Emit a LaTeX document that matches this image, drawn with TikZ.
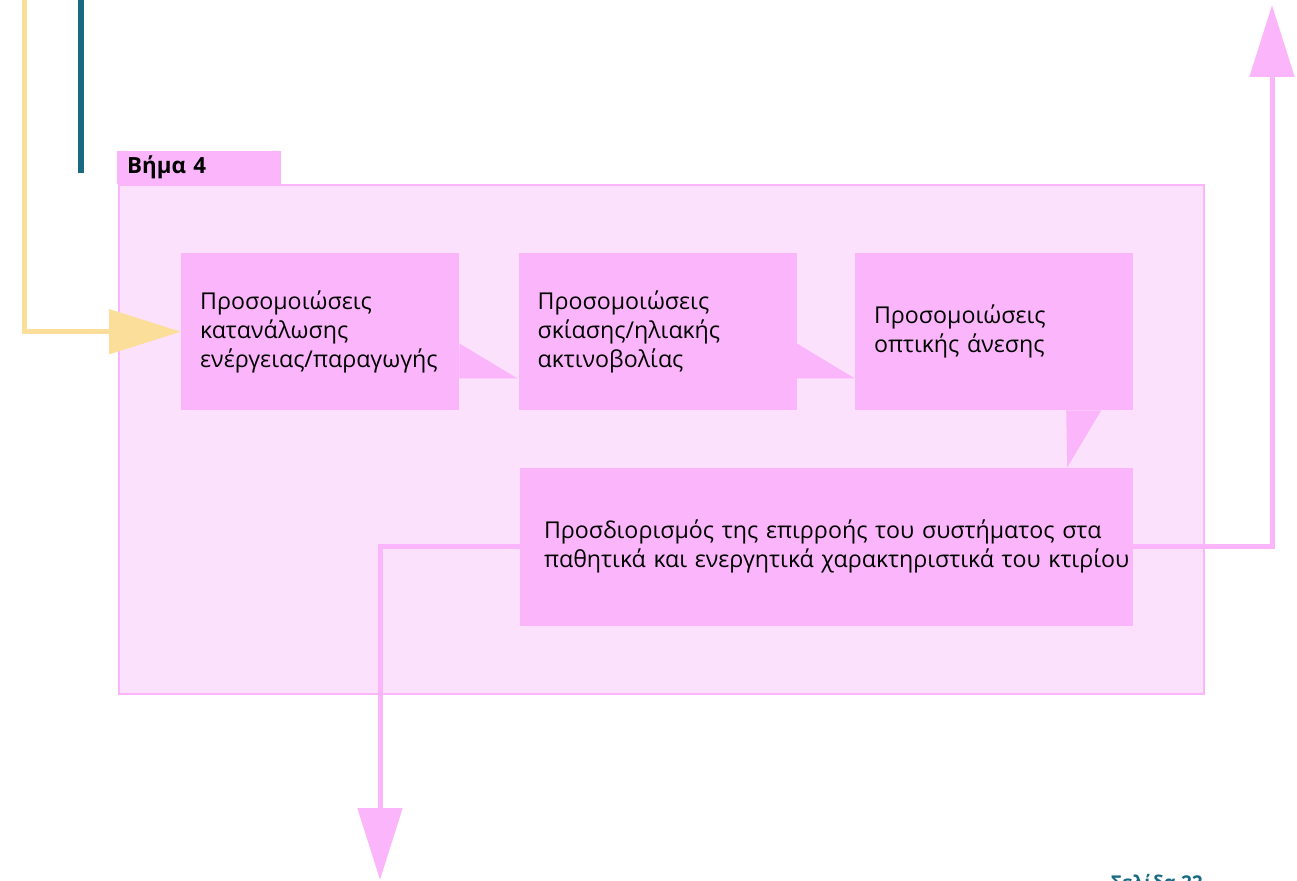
\documentclass[tikz,border=0pt]{standalone}
\usepackage{fontspec}
\setmainfont{Open Sans}
\usepackage{tikz}
\usetikzlibrary {arrows.meta,
                 positioning,
                 calc}
\definecolor{stepfill}{HTML}{FBB6FB}
\definecolor{panelfill}{HTML}{FCE1FC}
\definecolor{inflow}{HTML}{FBDE9A}
\definecolor{tealline}{HTML}{176A82}
\tikzset{
        base/.style={align=left, inner ysep=0pt, font=\fontsize{23.2}{29}\selectfont},
        sim/.style={base, rectangle, fill=stepfill, minimum height=157pt,
                    text width=240pt, inner xsep=19pt},
        result/.style={base, rectangle, fill=stepfill, minimum height=158pt,
                       text width=565pt, inner xsep=24pt},
        panel/.style={draw=stepfill, line width=2pt, fill=panelfill,
                      minimum width=1085pt, minimum height=509pt, inner sep=0pt},
        tab/.style={fill=stepfill, minimum height=33pt, text width=144pt,
                    inner xsep=10pt, inner ysep=0pt, align=left,
                    font=\fontsize{22.3}{26}\selectfont\bfseries},
        outarrow/.style={-{Triangle[length=72pt, width=44pt]}, line width=5pt, stepfill},
        inarrow/.style={-{Triangle[length=72pt, width=44pt]}, line width=5pt, inflow},
 }
\begin{document}
\begin{tikzpicture}[x=1pt, y=-1pt]
    \useasboundingbox (0,0) rectangle (1297,880);
    \node[panel, anchor=north west] (stage) at (118,184) {};
    \node[tab, anchor=south west] (stagetab) at (117,184) {Βήμα 4};

    \node[sim, anchor=north west] (energy) at (181,253)
        {Προσομοιώσεις\\κατανάλωσης\\ενέργειας/παραγωγής};
    \node[sim, right=59pt of energy] (shading)
        {Προσομοιώσεις\\σκίασης/ηλιακής\\ακτινοβολίας};
    \node[sim, right=58pt of shading] (comfort)
        {Προσομοιώσεις\\οπτικής άνεσης};
    \node[result, anchor=north east] (impact) at ([yshift=-57pt]comfort.south east)
        {Προσδιορισμός της επιρροής του συστήματος στα\\\mbox{παθητικά και ενεργητικά χαρακτηριστικά του κτιρίου}};

    % callout tails
    \fill[stepfill] ($(energy.south east)+(0,-67)$) -- ($(shading.south west)+(-1,-32)$)
        -- ($(energy.south east)+(0,-32)$) -- cycle;
    \fill[stepfill] ($(shading.south east)+(0,-67)$) -- ($(comfort.south west)+(0,-32)$)
        -- ($(shading.south east)+(0,-32)$) -- cycle;
    \fill[stepfill] ($(comfort.south east)+(-67,0)$) -- ($(comfort.south east)+(-32,0)$)
        -- ($(impact.north east)+(-66,0)$) -- cycle;

    \coordinate (feedin) at (24,0);
    \coordinate (tealtop) at (81,0);
    \coordinate (tealend) at (81,173);
    \coordinate (tonext) at (380,880);
    \coordinate (toback) at (1272,5);

    \draw[inarrow] (feedin) |- (energy.west);
    \draw[line width=6pt, tealline] (tealtop) -- (tealend);
    \draw[outarrow] (impact.west) -| (tonext);
    \draw[outarrow] (impact.east) -| (toback);

    \node[anchor=north east, inner sep=0pt, text=tealline,
          font=\fontsize{19}{22}\selectfont\bfseries] (pagenum) at (1203,874) {Σελίδα 22};
\end{tikzpicture}
\end{document}
